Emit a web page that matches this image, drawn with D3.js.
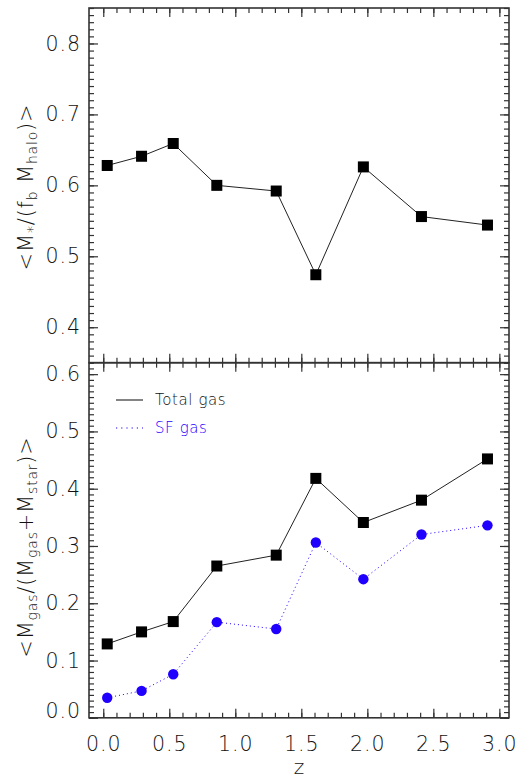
<!DOCTYPE html>
<html>
<head>
<meta charset="utf-8">
<script src="https://cdn.jsdelivr.net/npm/d3@7"></script>
<style>
  body { margin: 0; background: #fff; }
  svg text { font-family: "DejaVu Sans", sans-serif; font-weight: 300; fill: #111; }
</style>
</head>
<body>
<svg></svg>
<script>
// redshift of each snapshot
let zValues = [0.03, 0.29, 0.53, 0.86, 1.31, 1.61, 1.97, 2.41, 2.91]
// top panel: stellar mass / (f_b * halo mass)
let starFrac = [0.628, 0.641, 0.659, 0.600, 0.592, 0.474, 0.626, 0.556, 0.544]
// bottom panel: gas fractions
let totalGas = [0.129, 0.150, 0.168, 0.265, 0.284, 0.418, 0.341, 0.380, 0.452]
let sfGas = [0.035, 0.047, 0.076, 0.167, 0.155, 0.306, 0.242, 0.320, 0.336]

let xTicks = [0, 0.5, 1, 1.5, 2, 2.5, 3]
let topTicks = [0.4, 0.5, 0.6, 0.7, 0.8]
let bottomTicks = [0, 0.1, 0.2, 0.3, 0.4, 0.5, 0.6]

let width = 519
let height = 779
let plotLeft = 89
let plotRight = 509
let plotTop = 8
let plotMid = 362.7
let plotBottom = 717.8
let blue = '#1f00ff'

let svg = d3.select('svg')
svg.attr('width', width)
svg.attr('height', height)

let xScale = d3.scaleLinear().domain([-0.108, 3.073]).range([plotLeft, plotRight])
let yTop = d3.scaleLinear().domain([0.35, 0.85]).range([plotMid, plotTop])
let yBot = d3.scaleLinear().domain([0, 0.62]).range([plotBottom, plotMid])

let minorX = d3.range(0, 31).map(d => d / 10)
let minorTop = d3.range(35, 86).map(d => d / 100)
let minorBot = d3.range(0, 63).map(d => d / 100)

let fmt = d3.format('.1f')

// draw one set of ticks (minor then major) on an axis
let drawAxis = (axisFn, scale, minor, major, pos, sizeMinor, sizeMajor, labels) => {
    let gMin = svg.append('g').attr('transform', pos)
        .call(axisFn(scale).tickValues(minor).tickSize(sizeMinor).tickFormat(''))
    gMin.select('.domain').remove()
    let gMaj = svg.append('g').attr('transform', pos)
        .call(axisFn(scale).tickValues(major).tickSize(sizeMajor)
            .tickPadding(labels ? 8 : 0).tickFormat(labels ? fmt : ''))
    gMaj.select('.domain').remove()
    svg.selectAll('.tick line').attr('stroke', '#333').attr('stroke-width', 1.2)
    gMaj.selectAll('text').style('font-size', '20.5px').style('letter-spacing', '1px').attr('fill', '#111')
    return gMaj
}

// top panel axes
drawAxis(d3.axisLeft, yTop, minorTop, topTicks, 'translate(' + plotLeft + ',0)', -5, -9, true)
drawAxis(d3.axisRight, yTop, minorTop, topTicks, 'translate(' + plotRight + ',0)', -5, -9, false)
drawAxis(d3.axisTop, xScale, minorX, xTicks, 'translate(0,' + plotTop + ')', -5, -9, false)
drawAxis(d3.axisBottom, xScale, minorX, xTicks, 'translate(0,' + plotMid + ')', -5, -9, false)

// bottom panel axes
let yAxBot = drawAxis(d3.axisLeft, yBot, minorBot, bottomTicks, 'translate(' + plotLeft + ',0)', -5, -9, true)
// the 0.0 label sits a little above its tick, like in the original
yAxBot.selectAll('text').filter(d => d === 0).attr('y', -7)
drawAxis(d3.axisRight, yBot, minorBot, bottomTicks, 'translate(' + plotRight + ',0)', -5, -9, false)
drawAxis(d3.axisTop, xScale, minorX, xTicks, 'translate(0,' + plotMid + ')', -5, -9, false)
let xAx = drawAxis(d3.axisBottom, xScale, minorX, xTicks, 'translate(0,' + plotBottom + ')', -5, -9, true)
xAx.selectAll('text').attr('y', 19)

// frames
svg.append('rect').attr('x', plotLeft).attr('y', plotTop).attr('width', plotRight - plotLeft).attr('height', plotMid - plotTop)
    .attr('fill', 'none').attr('stroke', '#333').attr('stroke-width', 1.6)
svg.append('rect').attr('x', plotLeft).attr('y', plotMid).attr('width', plotRight - plotLeft).attr('height', plotBottom - plotMid)
    .attr('fill', 'none').attr('stroke', '#333').attr('stroke-width', 1.6)

// top panel series
let topLine = d3.line().x((d, i) => xScale(zValues[i])).y(d => yTop(d))
svg.append('path').attr('d', topLine(starFrac)).attr('fill', 'none').attr('stroke', '#222').attr('stroke-width', 1)
svg.selectAll('.sq-top').data(starFrac).enter().append('rect')
    .attr('class', 'sq-top')
    .attr('x', (d, i) => xScale(zValues[i]) - 5.5)
    .attr('y', d => yTop(d) - 5.5)
    .attr('width', 11).attr('height', 11).attr('fill', '#000')

// bottom panel series
let botLine = d3.line().x((d, i) => xScale(zValues[i])).y(d => yBot(d))
svg.append('path').attr('d', botLine(sfGas)).attr('fill', 'none').attr('stroke', blue)
    .attr('stroke-width', 1).attr('stroke-dasharray', '1,3')
svg.append('path').attr('d', botLine(totalGas)).attr('fill', 'none').attr('stroke', '#222').attr('stroke-width', 1)
svg.selectAll('.sq-bot').data(totalGas).enter().append('rect')
    .attr('class', 'sq-bot')
    .attr('x', (d, i) => xScale(zValues[i]) - 5.5)
    .attr('y', d => yBot(d) - 5.5)
    .attr('width', 11).attr('height', 11).attr('fill', '#000')
svg.selectAll('.dot').data(sfGas).enter().append('circle')
    .attr('class', 'dot')
    .attr('cx', (d, i) => xScale(zValues[i]))
    .attr('cy', d => yBot(d))
    .attr('r', 5.2).attr('fill', blue)

// legend
svg.append('line').attr('x1', 116).attr('x2', 143).attr('y1', 400).attr('y2', 400)
    .attr('stroke', '#333').attr('stroke-width', 1.2)
svg.append('text').attr('x', 155).attr('y', 405).style('font-size', '15px').style('letter-spacing', '0.6px').text('Total gas')
svg.append('line').attr('x1', 116).attr('x2', 143).attr('y1', 428).attr('y2', 428)
    .attr('stroke', blue).attr('stroke-width', 1.2).attr('stroke-dasharray', '1.2,4')
svg.append('text').attr('x', 155).attr('y', 433).style('font-size', '15px').style('letter-spacing', '0.6px')
    .style('fill', blue).text('SF gas')

// axis titles
let sub = (t, s) => t.append('tspan').attr('baseline-shift', '-25%').style('font-size', '14px').text(s)
let t1 = svg.append('text').attr('transform', 'translate(33,187) rotate(-90)')
    .attr('text-anchor', 'middle').style('font-size', '21px').style('letter-spacing', '0.8px')
t1.append('tspan').text('<M')
sub(t1, '*')
t1.append('tspan').text('/(f')
sub(t1, 'b')
t1.append('tspan').text('  M')
sub(t1, 'halo')
t1.append('tspan').text(')>')

let t2 = svg.append('text').attr('transform', 'translate(33,547) rotate(-90)')
    .attr('text-anchor', 'middle').style('font-size', '21px').style('letter-spacing', '0.8px')
t2.append('tspan').text('<M')
sub(t2, 'gas')
t2.append('tspan').text('/(M')
sub(t2, 'gas')
t2.append('tspan').text('+M')
sub(t2, 'star')
t2.append('tspan').text(')>')

svg.append('text').attr('x', (plotLeft + plotRight) / 2).attr('y', 774)
    .attr('text-anchor', 'middle').style('font-size', '20px').text('z')
</script>
</body>
</html>
